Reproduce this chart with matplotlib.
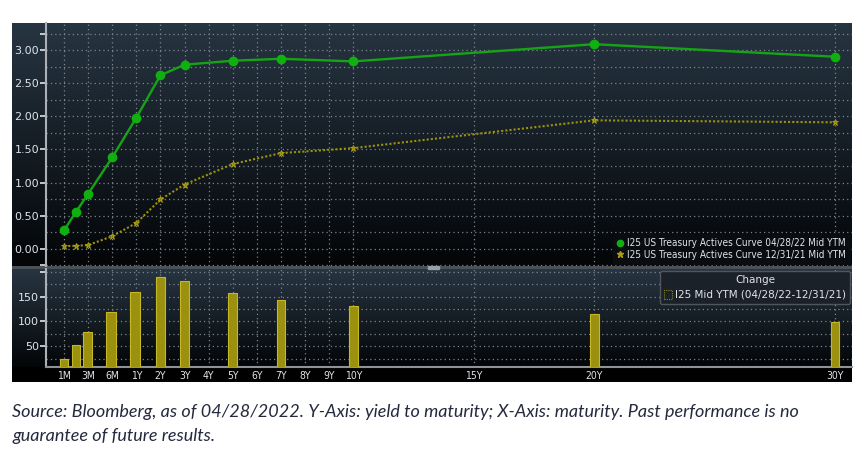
import numpy as np
import matplotlib
matplotlib.use('Agg')
import matplotlib.pyplot as plt
from matplotlib.patches import Rectangle
from matplotlib.lines import Line2D

# Data
tenor_years = [1/12, 2/12, 3/12, 0.5, 1, 2, 3, 5, 7, 10, 20, 30]
ytm_apr = [0.28, 0.56, 0.83, 1.38, 1.98, 2.62, 2.78, 2.84, 2.87, 2.83, 3.09, 2.90]
ytm_dec = [0.04, 0.045, 0.055, 0.19, 0.39, 0.745, 0.97, 1.28, 1.445, 1.52, 1.94, 1.91]
change_bp = [24, 52, 78, 119, 160, 189, 182, 157, 143, 132, 116, 99]

tick_years = [1/12, 0.25, 0.5, 1, 2, 3, 4, 5, 6, 7, 8, 9, 10, 15, 20, 30]
tick_labels = ['1M', '3M', '6M', '1Y', '2Y', '3Y', '4Y', '5Y', '6Y', '7Y', '8Y', '9Y',
               '10Y', '15Y', '20Y', '30Y']

label_apr = 'I25 US Treasury Actives Curve 04/28/22 Mid YTM'
label_dec = 'I25 US Treasury Actives Curve 12/31/21 Mid YTM'
label_chg = 'I25 Mid YTM (04/28/22-12/31/21)'
caption = ('Source: Bloomberg, as of 04/28/2022. Y-Axis: yield to maturity; X-Axis: maturity. '
           'Past performance is no\nguarantee of future results.')

# Bloomberg-style maturity axis: months evenly spaced, then linear in years
xp = [-1.0, 1/12, 0.25, 0.5, 1.0, 40.0]
fp = [-6.5, 0.0, 1.0, 2.0, 3.0, 42.0]


def fwd(x):
    return np.interp(x, xp, fp)


def inv(p):
    return np.interp(p, fp, xp)


W, H = 864, 470
fig = plt.figure(figsize=(W / 100, H / 100), dpi=100)
fig.patch.set_facecolor('white')


def fx(px):
    return px / W


def fy(py):
    return 1 - py / H


# dark terminal background with gradients
bg = fig.add_axes([fx(12), fy(382), fx(852 - 12), (382 - 23) / H])
bg.set_axis_off()
rows = np.arange(23, 382)
top_c = np.array([0x27, 0x35, 0x42]) / 255
bot_c = np.array([0x03, 0x05, 0x07]) / 255
img = np.zeros((len(rows), 1, 3))
for i, r in enumerate(rows):
    if r < 266:
        t = (r - 23) / (266 - 23)
        img[i, 0] = top_c * (1 - t) + bot_c * t
    elif r < 269:
        img[i, 0] = np.array([0x4c, 0x51, 0x56]) / 255
    elif r < 367:
        t = (r - 269) / (367 - 269)
        img[i, 0] = top_c * (1 - t) + bot_c * t
    else:
        img[i, 0] = [0, 0, 0]
bg.imshow(img, aspect='auto', extent=[0, 1, 0, 1], interpolation='bilinear')
bg.add_patch(Rectangle(((428 - 12) / 840, 1 - (269 - 23) / 359), 11 / 840, 3 / 359,
                       color='#9a9fa4', transform=bg.transAxes))

grid_c = '#7d858d'
txt_c = '#dfe4ea'

ax1 = fig.add_axes([fx(46), fy(266), fx(852 - 46), (266 - 23) / H])
ax2 = fig.add_axes([fx(46), fy(367), fx(852 - 46), (367 - 269) / H])

for ax in (ax1, ax2):
    ax.set_facecolor('none')
    ax.set_xscale('function', functions=(fwd, inv))
    ax.set_xlim(inv(-0.75), inv(32.7))
    ax.set_xticks(tick_years)
    ax.set_xticks([], minor=True)
    for s in ['top', 'right']:
        ax.spines[s].set_visible(False)
    ax.spines['left'].set_color('#aab0b6')
    ax.spines['left'].set_linewidth(1.5)
    ax.spines['bottom'].set_color('#8e9397')
    ax.spines['bottom'].set_linewidth(1.5)
    ax.grid(True, which='both', color=grid_c, linestyle=(0, (1, 2.5)), linewidth=0.9)
    ax.tick_params(axis='y', colors=txt_c, labelsize=8, length=4, width=1.2, pad=1)
    ax.tick_params(axis='y', which='minor', length=0)
    ax.tick_params(axis='x', length=0, colors=txt_c, labelsize=7.5, pad=3)
    ax.set_axisbelow(True)

# upper panel: yield curves
ax1.set_ylim(-0.26, 3.41)
ax1.set_yticks([-0.25, 0, 0.5, 1.0, 1.5, 2.0, 2.5, 3.0, 3.25])
ax1.set_yticklabels(['', '0.00', '0.50', '1.00', '1.50', '2.00', '2.50', '3.00', ''])
ax1.set_yticks(np.arange(0.25, 3.3, 0.5), minor=True)
ax1.set_xticklabels([])
ax1.spines['bottom'].set_visible(False)
ax1.plot(tenor_years, ytm_dec, color='#9c920c', linestyle=(0, (1, 1)), linewidth=1.5,
         marker='*', markersize=4.5, markeredgewidth=0.6, markerfacecolor='#8a800a',
         markeredgecolor='#b0a418', zorder=3)
ax1.plot(tenor_years, ytm_apr, color='#16a316', linewidth=1.7, marker='o', markersize=6,
         markerfacecolor='#10b010', markeredgecolor='#10b010', zorder=4)

h1 = [Line2D([], [], color='#10b010', marker='o', linestyle='none', markersize=4.5),
      Line2D([], [], color='#a89c14', marker='*', linestyle='none', markersize=5)]
leg1 = ax1.legend(h1, [label_apr, label_dec], loc='lower right', frameon=True,
                  fontsize=7.2, handlelength=0.6, handletextpad=0.4, borderpad=0.4,
                  labelspacing=0.15, borderaxespad=0.25, fancybox=False)
leg1.get_frame().set_facecolor('#0a0d10')
leg1.get_frame().set_edgecolor('#0a0d10')
leg1.get_frame().set_alpha(1)
for t in leg1.get_texts():
    t.set_color(txt_c)
    t.set_fontstretch('condensed')

# lower panel: change in bp
ax2.set_ylim(8, 206)
ax2.set_yticks([50, 100, 150, 200])
ax2.set_yticklabels(['50', '100', '150', ''])
ax2.set_yticks([25, 75, 125, 175], minor=True)
ax2.set_xticklabels(tick_labels)
for t in ax2.get_xticklabels():
    t.set_fontstretch('condensed')
pos = fwd(np.array(tenor_years))
widths = inv(pos + 0.18) - inv(pos - 0.18)
ax2.bar(tenor_years, np.array(change_bp) - 8, bottom=8, width=widths,
        color='#9b910f', edgecolor='#c4b82a', linewidth=0.8, zorder=3)

h2 = [Rectangle((0, 0), 1, 1, facecolor='none', edgecolor='#8c8420',
                linestyle=(0, (1, 1)), linewidth=0.8)]
leg2 = ax2.legend(h2, [label_chg], title='Change', loc='upper right', frameon=True,
                  fontsize=7.5, title_fontsize=7.5, handlelength=0.8, handleheight=0.9,
                  handletextpad=0.3, borderpad=0.35, borderaxespad=0.2)
leg2.get_frame().set_facecolor('#1a2129')
leg2.get_frame().set_edgecolor('#4f565d')
leg2.get_frame().set_alpha(1)
leg2.get_title().set_color(txt_c)
for t in leg2.get_texts():
    t.set_color(txt_c)

fig.text(fx(12), fy(404), caption, ha='left', va='top', fontsize=13,
         family='Lato', style='italic', color='#24293d', linespacing=1.62)

fig.savefig('out.png', dpi=100, facecolor='white')
